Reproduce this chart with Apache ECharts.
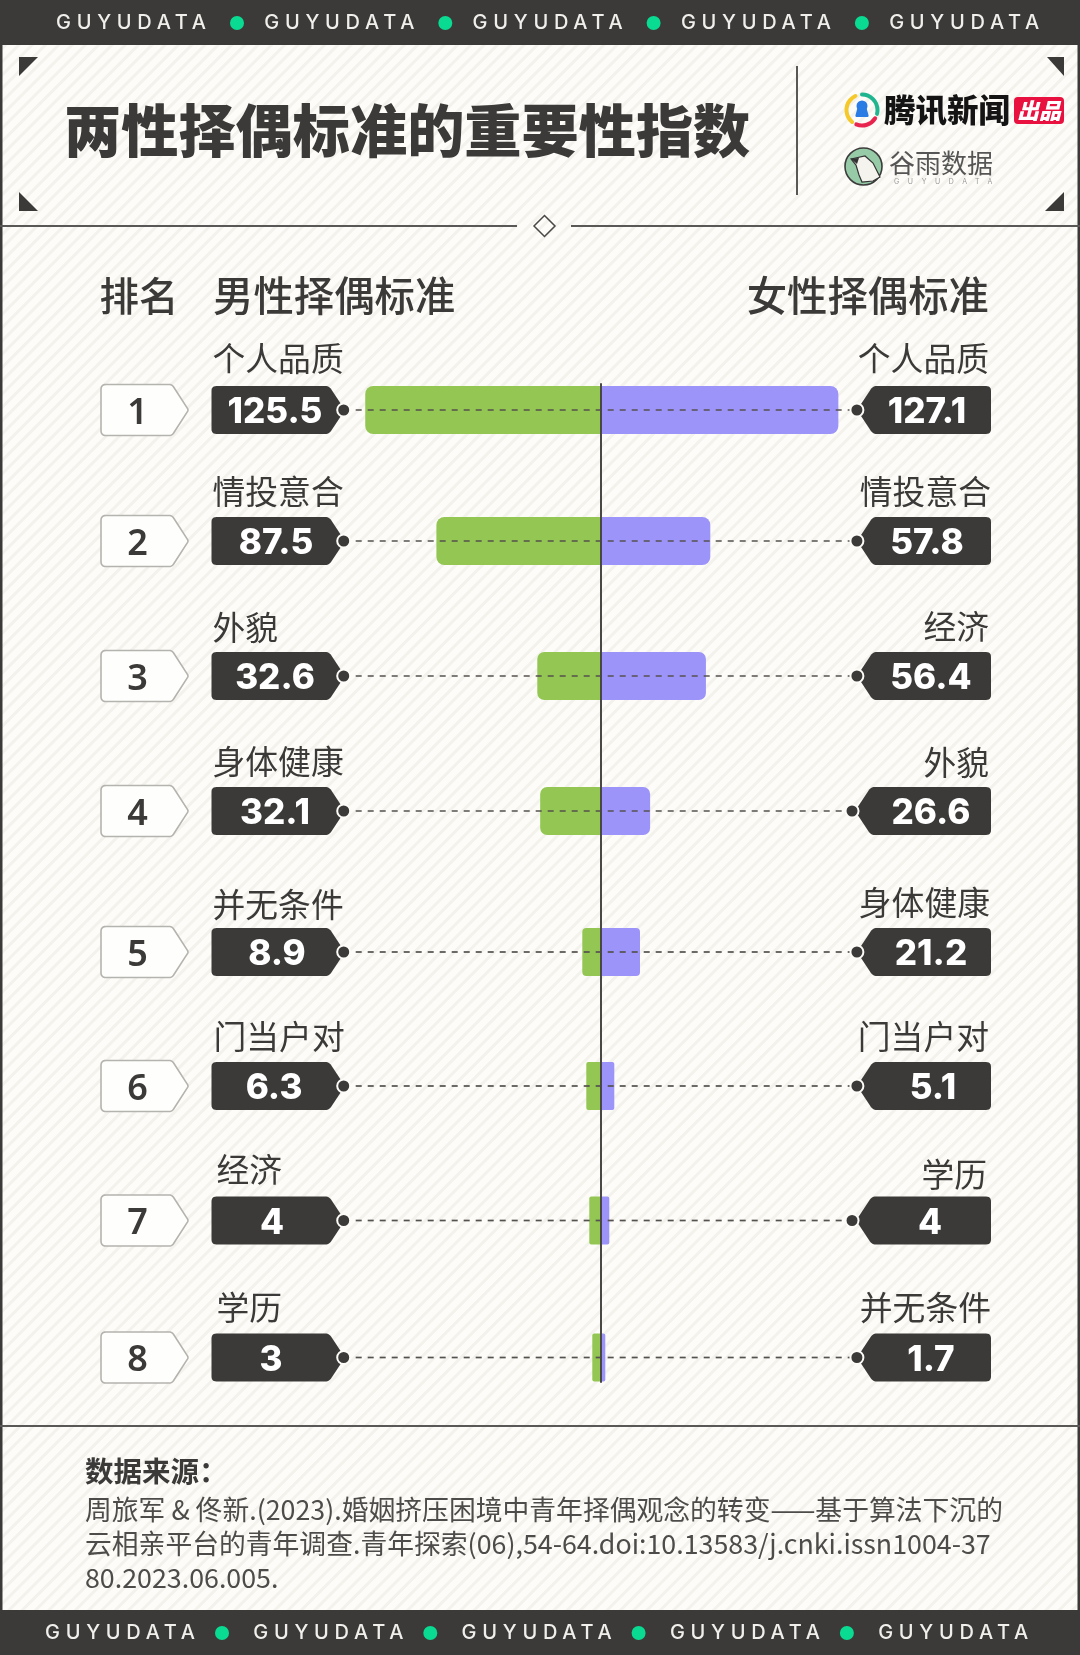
<!DOCTYPE html>
<html><head><meta charset="utf-8">
<style>
html,body{margin:0;padding:0;width:1080px;height:1655px;overflow:hidden;background-color:#FDFCF8;
background-image:repeating-linear-gradient(135deg,rgba(0,0,0,0) 0,rgba(0,0,0,0) 5.6px,#F4F2EC 6.4px,#F4F2EC 8.6px,rgba(0,0,0,0) 9.4px);}
#c{width:1080px;height:1655px;}
</style>
<script src="https://cdn.jsdelivr.net/npm/echarts@6/dist/echarts.min.js"></script>
</head><body><div id="c"></div>
<script>
// ---- data ----
const TITLE = '两性择偶标准的重要性指数';
const RANKS = [1,2,3,4,5,6,7,8];
const MALE_LABELS = ['个人品质','情投意合','外貌','身体健康','并无条件','门当户对','经济','学历'];
const MALE_VALUES = [125.5,87.5,32.6,32.1,8.9,6.3,4,3];
const FEMALE_LABELS = ['个人品质','情投意合','经济','外貌','身体健康','门当户对','学历','并无条件'];
const FEMALE_VALUES = [127.1,57.8,56.4,26.6,21.2,5.1,4,1.7];
const BAND_TEXT = 'GUYUDATA';
const SOURCE_HEAD = '数据来源：';
const SOURCE_LINES = [
 '周旅军 & 佟新.(2023).婚姻挤压困境中青年择偶观念的转变——基于算法下沉的',
 '云相亲平台的青年调查.青年探索(06),54-64.doi:10.13583/j.cnki.issn1004-37',
 '80.2023.06.005.'
];
// ---- page layout ----
const AXIS_MAX = 137;
const ROW_CY = [410,541,676,811,952,1086,1220.5,1357.5];
const L_LABEL_X = [212.5,212.5,212.5,212.5,212.5,213.5,216.5,216.5];
const L_LABEL_Y = [359,492,628,762,905,1037,1170,1308];
const R_LABEL_X = [989,991,989,989,990,989,987,991];
const R_LABEL_Y = [359,492,627,763,903,1037,1175,1308];
const L_VAL_X = [275,276,275,275,277,274,272,271];
const R_VAL_X = [927,927,931,931,931,933,930,931];
const R_DOT_END = [137,137,137,134.4,137,137,134.4,137];
const R_TAG_SHIFT = [0,0,0,-2,0,0,-1,0];
// smallest drawn bar lengths (px) and corner radii, a style choice of the original
const MALE_MIN_PX = [0,0,63,0,18,14,11,8];
const FEMALE_MIN_PX = [0,110,0,0,0,14,9,5];
const BAR_RADIUS = [8,8,7,7,4,2,2,2];
const DARK = '#3C3A39', CREAM = '#FDFCF8';
const FF = '"Noto Sans CJK SC","Noto Sans",sans-serif';
const NUM = 'Inter,"Noto Sans",sans-serif';

// spaced band wordmark
const _ft = CanvasRenderingContext2D.prototype.fillText;
CanvasRenderingContext2D.prototype.fillText = function(t,x,y,m){
  if (t === BAND_TEXT && 'letterSpacing' in this) {
    const px = parseFloat((this.font.match(/([\d.]+)px/)||[])[1]);
    this.letterSpacing = px < 10 ? '8.6px' : '5.7px';
    m === undefined ? _ft.call(this,t,x,y) : _ft.call(this,t,x,y,m);
    this.letterSpacing = '0px';
    return;
  }
  m === undefined ? _ft.call(this,t,x,y) : _ft.call(this,t,x,y,m);
};

function roundPoly(pts, radii){
  const out = [], n = pts.length;
  for (let i=0;i<n;i++){
    const p = pts[i], a = pts[(i+n-1)%n], b = pts[(i+1)%n], r = radii[i];
    const da = Math.hypot(a[0]-p[0],a[1]-p[1]), db = Math.hypot(b[0]-p[0],b[1]-p[1]);
    const s = [p[0]+(a[0]-p[0])*r/da, p[1]+(a[1]-p[1])*r/da];
    const e = [p[0]+(b[0]-p[0])*r/db, p[1]+(b[1]-p[1])*r/db];
    for (let k=0;k<=6;k++){ const t=k/6;
      out.push([(1-t)*(1-t)*s[0]+2*t*(1-t)*p[0]+t*t*e[0],(1-t)*(1-t)*s[1]+2*t*(1-t)*p[1]+t*t*e[1]]);
    }
  }
  return out;
}
const txt = (text,x,y,font,fill,align,z) => ({type:'text',z:z||5,style:{text,x,y,font,fill,align:align||'left',verticalAlign:'middle'}});
const poly = (points,fill,z,extra) => ({type:'polygon',z:z||1,shape:{points},style:Object.assign({fill},extra||{})});
const rect = (x,y,w,h,fill,r,z) => ({type:'rect',z:z||1,shape:{x,y,width:w,height:h,r:r||0},style:{fill}});
const line = (x1,y1,x2,y2,stroke,lw) => ({type:'line',z:3,shape:{x1,y1,x2,y2},style:{stroke,lineWidth:lw}});

const g = [];
// bands & frame
g.push(rect(0,0,1080,45,DARK));
g.push(rect(0,1610,1080,45,DARK));
g.push(rect(0,45,2.5,1565,DARK));
g.push(rect(1077.5,45,2.5,1565,DARK));
for (let k=0;k<5;k++){
  g.push(txt(BAND_TEXT,56+k*208.3,23,'500 20px Inter',"#F0EFEB"));
  g.push(txt(BAND_TEXT,45+k*208.3,1633,'500 20px Inter',"#F0EFEB"));
  if (k<4){
    g.push({type:'circle',z:3,shape:{cx:237+k*208.3,cy:23,r:7},style:{fill:'#0ADB92'}});
    g.push({type:'circle',z:3,shape:{cx:222+k*208.3,cy:1633,r:7},style:{fill:'#0ADB92'}});
  }
}
// corners
g.push(poly([[19,57],[38,57],[19,76]],DARK));
g.push(poly([[1047,57],[1064,57],[1064,76]],DARK));
g.push(poly([[19,192],[38,211],[19,211]],DARK));
g.push(poly([[1064,192],[1045,211],[1064,211]],DARK));
// rules
g.push(line(797,66,797,195,'#5A5856',2));
g.push(line(0,226,517,226,'#5A5856',2));
g.push(line(571,226,1080,226,'#5A5856',2));
g.push({type:'polygon',z:3,shape:{points:[[544.5,215.5],[555,226],[544.5,236.5],[534,226]]},style:{fill:'none',stroke:'#4a4846',lineWidth:1.5}});
g.push(line(0,1426,1080,1426,'#5A5856',2));
// logo 1
g.push({type:'arc',z:3,shape:{cx:862,cy:110,r:15.5,startAngle:Math.PI*0.72,endAngle:Math.PI*1.36},style:{fill:'none',stroke:'#F5C92B',lineWidth:4,lineCap:'round'}});
g.push({type:'arc',z:3,shape:{cx:862,cy:110,r:15.5,startAngle:Math.PI*1.5,endAngle:Math.PI*2.08},style:{fill:'none',stroke:'#1FB58F',lineWidth:4,lineCap:'round'}});
g.push({type:'arc',z:3,shape:{cx:862,cy:110,r:15.5,startAngle:Math.PI*0.18,endAngle:Math.PI*0.62},style:{fill:'none',stroke:'#E8254F',lineWidth:4,lineCap:'round'}});
g.push({type:'circle',z:3,shape:{cx:862,cy:106,r:5.5},style:{fill:'#2A7BE4'}});
g.push(poly(roundPoly([[858,106],[866,106],[869,117],[855,117]],[1,1,2,2]),'#2A7BE4',3));
g.push(txt('腾讯新闻',884,110,'900 31.5px '+FF,'#141414','left'));
g.push(rect(1014,97,50,27,'#E8113F',4,3));
g.push(txt('出品',1039,110.5,'italic 900 22px '+FF,'#fff','center'));
// logo 2
g.push({type:'circle',z:3,shape:{cx:863.5,cy:166.5,r:18.5},style:{fill:'#97CBA8',stroke:'#3c3c3c',lineWidth:1.6}});
g.push(poly([[851,159],[865,156],[873,163],[880,177],[873,181],[862,182],[859,175],[856,165]],'#F4F3EE',4,{stroke:'#333',lineWidth:1.2}));
g.push(poly([[850.5,158.5],[859,158],[857,164]],'#333',4));
g.push(txt('谷雨数据',889,163,'400 26px '+FF,'#555','left'));
g.push(txt(BAND_TEXT,894,182,'400 7px Inter','#999','left'));
// heads
g.push(txt('排名',99.5,296,'500 39.5px '+FF,DARK));
g.push(txt('男性择偶标准',213,296,'500 40.4px '+FF,DARK));
g.push(txt('女性择偶标准',989,296,'500 40.4px '+FF,DARK,'right'));
// footer
g.push(txt(SOURCE_HEAD,85,1471,'700 28.5px '+FF,DARK));
SOURCE_LINES.forEach((s,i)=>g.push(txt(s,85,1510+i*34,'400 26.8px '+FF,'#4E4C4A')));
// rows
RANKS.forEach((rank,i)=>{
  const cy = ROW_CY[i], sh = R_TAG_SHIFT[i];
  g.push(poly(roundPoly([[101,cy-25.5],[172,cy-25.5],[188.5,cy],[172,cy+25.5],[101,cy+25.5]],[5,3,2,3,5]),'#FEFEFC',1,{stroke:'#B5B3AE',lineWidth:1.6}));
  g.push(txt(String(rank),137.5,cy+3.5,'600 36px "Noto Sans"',DARK,'center'));
  g.push(txt(MALE_LABELS[i],L_LABEL_X[i],L_LABEL_Y[i],'400 32.8px '+FF,DARK));
  g.push(txt(FEMALE_LABELS[i],R_LABEL_X[i],R_LABEL_Y[i],'400 32.8px '+FF,DARK,'right'));
  g.push(poly(roundPoly([[211.5,cy-24],[329,cy-24],[345,cy],[329,cy+24],[211.5,cy+24]],[5,4,1,4,5]),DARK));
  g.push(poly(roundPoly([[991,cy-24],[873+sh,cy-24],[857+sh,cy],[873+sh,cy+24],[991,cy+24]],[5,4,1,4,5]),DARK));
  g.push(txt(String(MALE_VALUES[i]),L_VAL_X[i],cy+2.5,'800 35px '+NUM,'#fff','center'));
  g.push(txt(String(FEMALE_VALUES[i]),R_VAL_X[i],cy+2.5,'800 35px '+NUM,'#fff','center'));
});

// ---- charts: one row grid per rank, sharing the same x scale ----
const PLOT_LEFT = 343.7, PLOT_W = 513.2;
const grids=[], xAxes=[], yAxes=[], series=[];
RANKS.forEach((rank,i)=>{
  const r = BAR_RADIUS[i];
  grids.push({left:PLOT_LEFT,top:ROW_CY[i]-24,width:PLOT_W,height:48});
  xAxes.push({type:'value',gridIndex:i,min:-AXIS_MAX,max:AXIS_MAX,show:false});
  yAxes.push({type:'category',gridIndex:i,data:[String(rank)],show:false});
  series.push({type:'bar',name:'男性',xAxisIndex:i,yAxisIndex:i,data:[-MALE_VALUES[i]],barWidth:48,barGap:'-100%',silent:true,
    barMinHeight:MALE_MIN_PX[i],itemStyle:{color:'#93C653',borderRadius:[r,0,0,r]}});
  series.push({type:'bar',name:'女性',xAxisIndex:i,yAxisIndex:i,data:[FEMALE_VALUES[i]],barWidth:48,barGap:'-100%',silent:true,
    barMinHeight:FEMALE_MIN_PX[i],itemStyle:{color:'#9C94F8',borderRadius:[0,r,r,0]}});
  series.push({type:'line',xAxisIndex:i,yAxisIndex:i,z:4,clip:false,silent:true,
    data:[[-AXIS_MAX,0],[R_DOT_END[i],0]],symbol:'circle',symbolSize:13,showSymbol:true,
    lineStyle:{color:'#55524F',width:1.7,type:[6,6]},
    itemStyle:{color:DARK,borderColor:CREAM,borderWidth:2}});
});
// centre axis
grids.push({left:PLOT_LEFT,top:384,width:PLOT_W,height:998});
xAxes.push({type:'value',gridIndex:8,min:-AXIS_MAX,max:AXIS_MAX,show:false});
yAxes.push({type:'value',gridIndex:8,min:0,max:1,z:10,axisLine:{show:true,onZero:true,lineStyle:{color:'#4A4846',width:2}},
  axisTick:{show:false},axisLabel:{show:false},splitLine:{show:false}});

const chart = echarts.init(document.getElementById('c'),null,{renderer:'canvas',width:1080,height:1655});
chart.setOption({
  animation:false,
  backgroundColor:'transparent',
  textStyle:{fontFamily:FF},
  title:{text:TITLE,left:64,top:102,padding:0,textStyle:{fontFamily:FF,fontWeight:900,fontSize:57.2,color:DARK}},
  grid:grids,xAxis:xAxes,yAxis:yAxes,series,graphic:g
});
</script></body></html>
